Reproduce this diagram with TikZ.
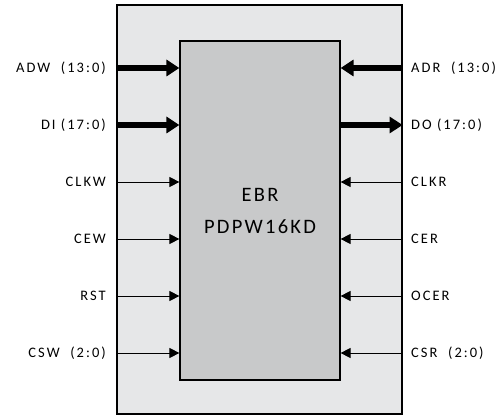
\documentclass[tikz,border=0pt]{standalone}
\usepackage{fontspec}
\setmainfont{Carlito}
\usepackage{xcolor}
\usepackage{tikz}
\usetikzlibrary{arrows.meta,positioning}

\definecolor{chipgray}{HTML}{E6E7E8}
\definecolor{ebrgray}{HTML}{C8C9CA}

\begin{document}
\begin{tikzpicture}[
    x=1pt, y=-1pt,
    lbl/.style={font=\fontsize{14.5}{17}\selectfont\addfontfeatures{LetterSpace=14}, inner sep=0pt, text height=9.5pt, text depth=0pt},
    bus/.style={line width=5.5pt, -{Triangle[length=13pt,width=16pt]}},
    sig/.style={line width=0.9pt, -{Triangle[length=10pt,width=10pt]}}
]
\useasboundingbox (0,0) rectangle (496,417);

% outer chip and the EBR block
\node[draw, line width=1.2pt, fill=chipgray, minimum width=285pt, minimum height=409pt, inner sep=0pt] (chip) at (259.5,209.5) {};
\node[draw, line width=1.2pt, fill=ebrgray, minimum width=160pt, minimum height=339pt, inner sep=0pt,
      align=center, font=\fontsize{20.5}{32}\selectfont\addfontfeatures{LetterSpace=11}] (ebr) at (260,210.5) {EBR\\PDPW16KD};

% write port
\foreach \i/\nm/\txt/\sty in {0/adw/{ADW\ \ (13:0)}/bus, 1/di/{DI (17:0)}/bus, 2/clkw/CLKW/sig,
                              3/cew/CEW/sig, 4/rst/RST/sig, 5/csw/{CSW\ \ (2:0)}/sig}{
  \node[lbl, anchor=east] (\nm) at (106,68+57*\i) {\txt};
  \draw[\sty] (\nm -| chip.west) -- (\nm -| ebr.west);
}

% read port
\foreach \i/\nm/\txt/\sty in {0/adr/{ADR\ \ (13:0)}/bus, 2/clkr/CLKR/sig,
                              3/cer/CER/sig, 4/ocer/OCER/sig, 5/csr/{CSR\ \ (2:0)}/sig}{
  \node[lbl, anchor=west] (\nm) at (411,68+57*\i) {\txt};
  \draw[\sty] (\nm -| chip.east) -- (\nm -| ebr.east);
}
\node[lbl, anchor=west] (do) at (411,125) {DO (17:0)};
\draw[bus] (do -| ebr.east) -- (do -| chip.east);
\end{tikzpicture}
\end{document}
